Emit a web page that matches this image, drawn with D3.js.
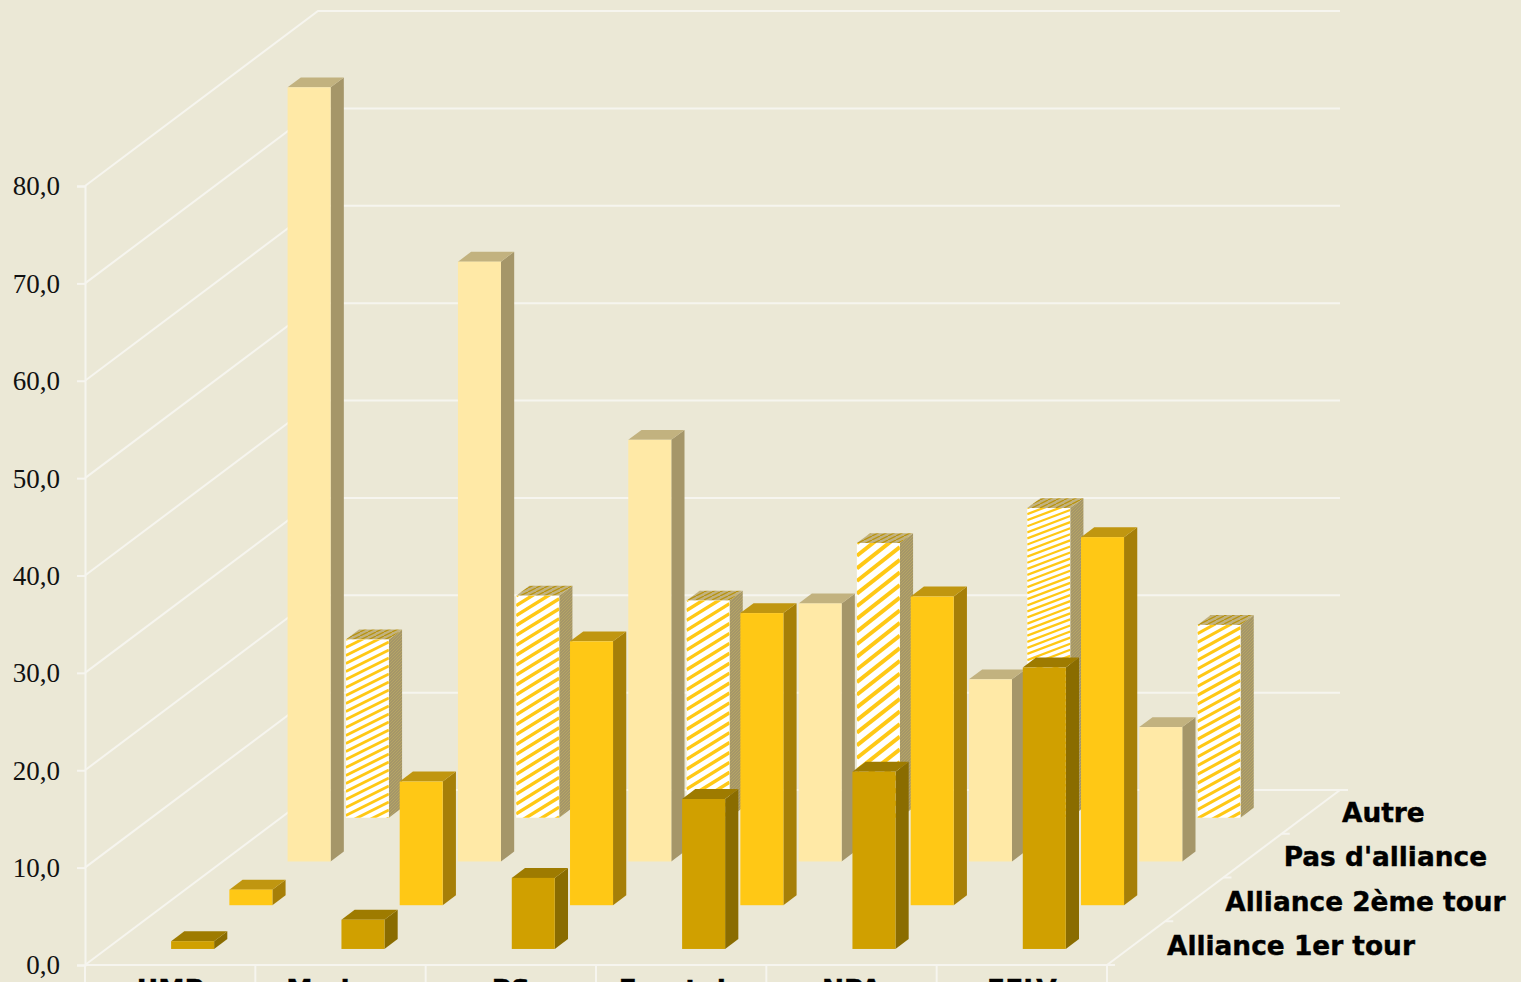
<!DOCTYPE html>
<html><head><meta charset="utf-8">
<script src="https://cdn.jsdelivr.net/npm/d3@7"></script>
<style>html,body{margin:0;padding:0;background:#EBE8D6;overflow:hidden}svg{display:block}</style>
</head><body><svg id="c" width="1521" height="982"></svg>
<script>
const categories = ["UMP","Modem","PS","Front de","NPA","EELV"];
const seriesNames = ["Alliance 1er tour","Alliance 2ème tour","Pas d'alliance","Autre"];
const alliance1 = [0.8,3.0,7.3,15.4,18.2,28.9];
const alliance2 = [1.6,12.7,27.1,30.0,31.7,37.8];
const pasAlliance = [79.5,61.6,43.3,26.5,18.7,13.8];
const autre = [18.3,22.8,22.3,28.2,31.8,19.8];
const yTicks = [0,10,20,30,40,50,60,70,80];

const seriesValues = [alliance1,alliance2,pasAlliance,autre];
const faces = [
 {front:"#D0A000",side:"#8A6C00",top:"#9E7B00"},
 {front:"#FFC815",side:"#A67F08",top:"#C09610"},
 {front:"#FFE9A6",side:"#A59669",top:"#C2B27F"},
 {hatch:true,front:"#FFFFFF",side:"#A59669",top:"#C2B27F"}
];
// the original hatch is a bitmap stretched to each bar: slope of the stripes per bar
const hatchSlope = [.5,.62,.62,.79,.38,.55];
const LINE="#F6F5EF", BG="#EBE8D6";
const svg=d3.select("#c");
svg.append("rect").attr("width",1521).attr("height",982).attr("fill",BG);
const defs=svg.append("defs");

const y=d3.scaleLinear().domain([0,80]).range([965,186]);
const x=d3.scaleBand().domain(categories).range([86.1,1108.1]).paddingInner(.7475).paddingOuter(.37375);
const z=d3.scaleBand().domain(seriesNames).range([-.005,.995]).paddingInner(.773).paddingOuter(.3865);
const labelX=d3.scalePoint().domain(seriesNames).range([1167,1342]);
const labelY=d3.scalePoint().domain(seriesNames).range([955,822]);
const DX=233, DY=-175;
const barDX=z.bandwidth()*DX, barDY=z.bandwidth()*DY;
const px=(v,t)=>v+t*DX, py=(v,t)=>v+t*DY;
const poly=pts=>pts.map(p=>p.join(",")).join(" ");

// walls
const grid=svg.append("g").attr("stroke",LINE).attr("stroke-width",2).attr("fill","none");
yTicks.forEach(t=>{
  const Y=y(t);
  grid.append("polyline").attr("points",poly([[85,Y],[px(85,1),py(Y,1)],[1340,py(Y,1)]]));
});
grid.append("polyline").attr("points",poly([[1107,965],[1340,790]]));
// depth ticks on the right floor edge
d3.range(0,5).forEach(i=>{
  const t=i/4;
  grid.append("line").attr("x1",px(1107,t)).attr("x2",px(1107,t)+8).attr("y1",py(965,t)).attr("y2",py(965,t));
});
// category boundaries
d3.range(0,7).forEach(i=>{
  const X=85+i*x.step();
  grid.append("line").attr("x1",X).attr("x2",X).attr("y1",965).attr("y2",990);
});
grid.append("line").attr("x1",85).attr("x2",1107).attr("y1",965).attr("y2",965);

// y axis
const yAxis=svg.append("g").attr("transform","translate(85,0)")
  .call(d3.axisLeft(y).tickValues(yTicks).tickSize(8).tickPadding(17)
    .tickFormat(d=>d3.format(".1f")(d).replace(".",",")));
yAxis.selectAll("path,line").attr("stroke",LINE).attr("stroke-width",2);
yAxis.selectAll("text").attr("font-family","'Liberation Serif',serif").attr("font-size",27).attr("fill","#111").attr("dy","0.33em");

// category labels
const xAxis=svg.append("g").attr("transform","translate(-1,965)")
  .call(d3.axisBottom(x).tickSize(0).tickPadding(15));
xAxis.select(".domain").remove();
xAxis.selectAll("text").attr("font-family","'DejaVu Sans',sans-serif").attr("font-weight","bold").attr("font-size",26.4).attr("fill","#000").attr("stroke","#000").attr("stroke-width",.4).attr("dy","0.71em");

// series labels
svg.append("g").selectAll("text").data(seriesNames).join("text")
  .attr("x",d=>labelX(d))
  .attr("y",d=>labelY(d))
  .attr("font-family","'DejaVu Sans',sans-serif").attr("font-weight","bold").attr("font-size",26.4).attr("fill","#000")
  .attr("stroke","#000").attr("stroke-width",.4)
  .text(d=>d);

function stripes(id,P,Q,bg,fg,w){
  const p=defs.append("pattern").attr("id",id).attr("patternUnits","userSpaceOnUse").attr("width",P).attr("height",Q);
  p.append("rect").attr("width",P).attr("height",Q).attr("fill",bg);
  p.append("path").attr("d",`M${-P},${Q}L0,0M0,${Q}L${P},0M${P},${Q}L${2*P},0`).attr("stroke",fg).attr("stroke-width",w).attr("fill","none");
  return `url(#${id})`;
}

// bars, back row first
const bars=svg.append("g");
d3.range(3,-1,-1).forEach(r=>{
  const name=seriesNames[r], f=faces[r], t=z(name);
  categories.forEach((c,i)=>{
    const v=seriesValues[r][i];
    const xl=px(x(c),t), xr=xl+x.bandwidth();
    const y0=py(y(0),t), y1=py(y(v),t);
    const h=y0-y1;
    let side=f.side, top=f.top;
    if(f.hatch){
      const a=`h${r}${i}`;
      side=stripes(a+"s",3,3,"#A59669","#B5A565",1);
      top=stripes(a+"t",8,4,"#C2B27F","#B8930F",1.3);
    }
    const g=bars.append("g");
    g.append("polygon").attr("points",poly([[xr,y0],[xr+barDX,y0+barDY],[xr+barDX,y1+barDY],[xr,y1]])).attr("fill",side);
    g.append("polygon").attr("points",poly([[xl,y1],[xr,y1],[xr+barDX,y1+barDY],[xl+barDX,y1+barDY]])).attr("fill",top);
    g.append("rect").attr("x",xl).attr("y",y1).attr("width",xr-xl).attr("height",h).attr("fill",f.front);
    if(f.hatch){
      const slope=hatchSlope[i], P=16, angle=Math.atan(slope), perp=P*slope*Math.cos(angle);
      const id=`clip${r}${i}`;
      defs.append("clipPath").attr("id",id).append("rect").attr("x",xl).attr("y",y1).attr("width",xr-xl).attr("height",h);
      const s=g.append("g").attr("clip-path",`url(#${id})`).attr("stroke","#FFC815").attr("stroke-width",perp*.4);
      const w=xr-xl, span=w*slope+h;
      d3.range(0,Math.ceil(span/(P*slope))+2).forEach(k=>{
        const yStart=y1+k*P*slope;
        s.append("line").attr("x1",xl).attr("y1",yStart).attr("x2",xr).attr("y2",yStart-w*slope);
      });
    }
  });
});
</script></body></html>
